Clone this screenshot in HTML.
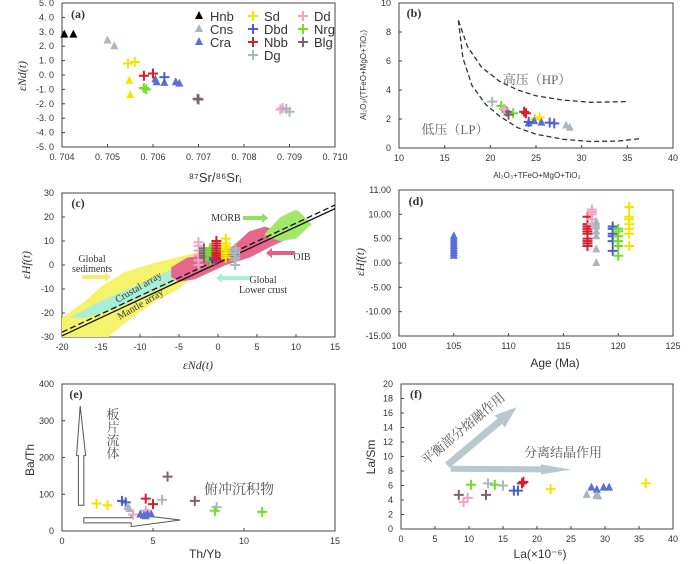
<!DOCTYPE html>
<html><head><meta charset="utf-8"><style>
body{margin:0;background:#fff;}
svg{display:block;font-family:"Liberation Sans","Noto Sans CJK SC",sans-serif;}
.ser{font-family:"Liberation Serif","Noto Serif CJK SC",serif;}
</style></head><body>
<svg id="fig" width="700" height="564" viewBox="0 0 700 564" xmlns="http://www.w3.org/2000/svg"></svg>
<script>
const NS="http://www.w3.org/2000/svg";
const svg=document.getElementById('fig');
const C={Hnb:"#000",Cns:"#a7b6c0",Cra:"#5a6ed8",Sd:"#f2e600",Dbd:"#4a5fd0",Nbb:"#d41f2c",Dg:"#a9b9c2",Dd:"#f2a3c4",Nrg:"#72e022",Blg:"#7e6272"};

// ---- panel a data ----
const aSeries=["Hnb","Cns","Cra","Sd","Sd","Dbd","Nbb","Nrg","Blg","Dd","Dg"];
const aShapes=["tri","tri","tri","cross","tri","cross","cross","cross","cross","cross","cross"];
const aX=[[0.70405,0.70425],[0.70500,0.70515],[0.70605,0.70608,0.70625,0.70650,0.70658],[0.70545,0.70560],[0.70548,0.70550],[0.70625],[0.70580,0.70600],[0.70580,0.70585],[0.70700,0.70698],[0.70880,0.70885],[0.70893,0.70900]];
const aY=[[2.8,2.8],[2.4,2.0],[-0.3,-0.5,-0.55,-0.5,-0.6],[0.8,0.9],[-0.4,-1.4],[-0.15],[-0.05,0.1],[-0.9,-1.0],[-1.7,-1.65],[-2.4,-2.3],[-2.35,-2.55]];
const aXTicks=[0.704,0.705,0.706,0.707,0.708,0.709,0.710];
const aXLabels=["0. 704","0. 705","0. 706","0. 707","0. 708","0. 709","0. 710"];
const aYTicks=[5,4,3,2,1,0,-1,-2,-3,-4,-5];
const aYLabels=["5. 0","4. 0","3. 0","2. 0","1. 0","0. 0","-1. 0","-2. 0","-3. 0","-4. 0","-5. 0"];

// ---- panel b ----
const bSeries=["Dg","Nrg","Blg","Dd","Nbb","Sd","Cra","Dbd","Cns"];
const bShapes=["cross","cross","cross","cross","cross","cross","tri","cross","tri"];
const bX=[[20.2],[21.2,22.5],[21.8,22.0],[21.5],[23.7,23.9],[24.9,25.4],[24.8,25.6,24.2],[24.2,26.5,27.0],[28.3,28.7]];
const bY=[[3.2],[2.9,2.4],[2.5,2.3],[2.7],[2.5,2.4],[2.0,2.1],[1.85,1.75,1.7],[1.8,1.75,1.7],[1.55,1.4]];
const bXTicks=[10,15,20,25,30,35,40];
const bYTicks=[0,2,4,6,8,10];
const bUpperX=[16.5,17.5,19,21,23,25,28,31,35];
const bUpperY=[8.8,7.0,5.6,4.6,4.0,3.6,3.3,3.15,3.2];
const bLowerX=[16.5,17,18,19.5,21,23,25,28,31,34,36.5];
const bLowerY=[8.8,6.2,4.3,3.0,2.2,1.4,0.95,0.6,0.45,0.48,0.65];

// ---- panel c ----
const cSeries=["Dd","Blg","Nrg","Dbd","Nbb","Sd","Dg"];
const cX=[-2.5,-1.8,-1.0,-0.5,-0.2,1.0,2.2];
const cY=[[0,2,4,6,8,9.5],[3,4,5,6,7],[2,3,4,5,6,7],[2,2.5,3],[2,3,4,5,6,7,8,9,10],[3,4,5,6,7,8,9,11],[0,2,3,4,5,6,7]];
const cXTicks=[-20,-15,-10,-5,0,5,10,15];
const cYTicks=[-30,-20,-10,0,10,20,30];
const sedX=[-20,-17,-15,-12,-8,-3,0,2.5,1,-3,-5,-8,-11,-13,-14,-20];
const sedY=[-22,-15,-9,-3,1,5,6.5,5,1,-4,-10,-15,-22,-27,-30,-30];
const lcX=[-19,-15,-10,-6,-3,0,3,5,3,-1,-5,-9,-13,-17];
const lcY=[-22,-15,-8,-2,3,7,8,6,2,-1,-6,-12,-18,-22];
const oibX=[-6,-4,0,2,4,6,8,9,7,4,1,-3,-5,-6];
const oibY=[-1,3,5,8,14,16,14,11,8,3,0,-6,-7,-5];
const morbX=[6,8,10,10.5,12,11,10,8,6];
const morbY=[13,20,23,22,17,14,11,10,12];
const crustX=[-20,15], crustY=[-28,25];
const mantleX=[-20,15], mantleY=[-29.5,23.5];

// ---- panel d ----
const dSeries=["Cra","Nbb","Dd","Cns","Dbd","Nrg","Sd"];
const dShapes=["tri","cross","cross","tri","cross","cross","cross"];
const dX=[105,117.2,117.6,118,119.5,120,121];
const dY=[[1.5,2,2.5,3,3.5,4,4.5,5,5.5],[3.5,4,4.5,5,6,6.5,7,7.5,8,9.5],[8,9,10,10.5,11],[0,2.8,5.5,6.5,7.5,8,8.5],[2.5,4.5,5.5,6,7,7.5],[1.5,3.5,4.5,5.5,6.5,7],[3.5,6,7,8,9,9.5,11.5]];
const dXTicks=[100,105,110,115,120,125];
const dYTicks=[15,10,5,0,-5,-10,-15];
const dYLabels=["11.00","10.00","5.00","0.00","-5.00","-10.00","-15.00"];

// ---- panel e ----
const eSeries=["Sd","Dbd","Cns","Dd","Cra","Nbb","Dg","Blg","Nrg"];
const eShapes=["cross","cross","tri","cross","tri","cross","cross","cross","cross"];
const eX=[[1.9,2.5],[3.3,3.5],[3.6,3.7],[3.9,4.6,4.7],[4.3,4.5,4.7,4.9,4.6],[4.6,5.0],[5.5,8.5],[5.8,7.3],[8.4,11]];
const eY=[[75,70],[82,78],[65,60],[45,55,48],[45,42,45,45,40],[88,73],[85,65],[148,82],[55,52]];
const eXTicks=[0,5,10,15];
const eYTicks=[0,100,200,300,400];

// ---- panel f ----
const fSeries=["Blg","Dd","Nrg","Dg","Dbd","Nbb","Sd","Cra","Cns"];
const fShapes=["cross","cross","cross","cross","cross","cross","cross","tri","tri"];
const fX=[[8.5,12.5],[9.2,9.8],[10.3,13.8],[12.8,15],[16.6,17.2],[17.8,18],[22,36],[28,28.8,29.8,30.6],[27.3,28.7,29]];
const fY=[[4.7,4.7],[3.7,4.3],[6.1,6.1],[6.3,6],[5.3,5.3],[6.3,6.5],[5.5,6.3],[5.7,5.4,5.7,5.7],[4.7,4.6,4.5]];
const fXTicks=[0,5,10,15,20,25,30,35,40];
const fYTicks=[0,2,4,6,8,10,12,14,16,18,20];

function el(tag,attrs,parent){const e=document.createElementNS(NS,tag);for(const k in attrs)e.setAttribute(k,attrs[k]);(parent||svg).appendChild(e);return e;}
function txt(s,x,y,size,anchor,parent,cls){const t=el('text',{x:x,y:y,'font-size':size,'text-anchor':anchor||'middle',fill:'#333'},parent);if(cls)t.setAttribute('class',cls);t.textContent=s;return t;}

function panel(name,box,xd,yd,xt,yt,xl,yl){
  const g=el('g',{});
  
  
  const [L,T,R,B]=box;
  const sx=v=>L+(v-xd[0])/(xd[1]-xd[0])*(R-L);
  const sy=v=>B-(v-yd[0])/(yd[1]-yd[0])*(B-T);
  const fr=el('rect',{x:L,y:T,width:R-L,height:B-T,fill:'none',stroke:'#444','stroke-width':1},g);
  
  
  xt.forEach((v,i)=>{const x=sx(v);el('line',{x1:x,y1:B,x2:x,y2:B-3,stroke:'#444'},g);
    const t=txt(xl?xl[i]:String(v),x,B+13,9,'middle',g);
    
    });
  yt.forEach((v,i)=>{const y=sy(v);el('line',{x1:L,y1:y,x2:L+3,y2:y,stroke:'#444'},g);
    const t=txt(yl?yl[i]:String(v),L-8,y+3,9,'end',g);
    
    });
  return {g,sx,sy};
}
function mark(p,shape,x,y,col){
  let m;
  const X=p.sx(x),Y=p.sy(y);
  if(shape==='tri'){m=el('path',{d:`M${X},${Y-5}L${X+4},${Y+3}L${X-4},${Y+3}Z`,fill:col},p.g);}
  else{m=el('path',{d:`M${X-5},${Y}H${X+5}M${X},${Y-5}V${Y+5}`,stroke:col,'stroke-width':2},p.g);}
  
  
}
function poly(p,xs,ys,attrs,name){
  const pts=xs.map((x,i)=>p.sx(x)+','+p.sy(ys[i])).join(' ');
  const e=el('polygon',Object.assign({points:pts},attrs),p.g);
  
  
}
function pline(p,xs,ys,attrs,name){
  const pts=xs.map((x,i)=>p.sx(x)+','+p.sy(ys[i])).join(' ');
  const e=el('polyline',Object.assign({points:pts,fill:'none'},attrs),p.g);
  
  
}
function label(p,s,x,y,size,name,extra,cls){const t=txt(s,x,y,size,'middle',p.g,cls);
  
  
  if(extra)for(const k in extra)t.setAttribute(k,extra[k]);return t;}
function arrowPath(x1,y1,x2,y2,sw,hw,hl){
  const dx=x2-x1,dy=y2-y1,len=Math.hypot(dx,dy),ux=dx/len,uy=dy/len,nx=-uy,ny=ux;
  const bx=x2-ux*hl,by=y2-uy*hl;
  const P=[[x1+nx*sw,y1+ny*sw],[bx+nx*sw,by+ny*sw],[bx+nx*hw,by+ny*hw],[x2,y2],[bx-nx*hw,by-ny*hw],[bx-nx*sw,by-ny*sw],[x1-nx*sw,y1-ny*sw]];
  return 'M'+P.map(q=>q[0].toFixed(1)+','+q[1].toFixed(1)).join('L')+'Z';
}

// Panel a
const pa=panel('panel-a',[62,3,335,147],[0.704,0.710],[-5,5],aXTicks,aYTicks,aXLabels,aYLabels);
aSeries.forEach((s,i)=>aX[i].forEach((x,j)=>mark(pa,aShapes[i],x,aY[i][j],C[s])));
label(pa,'(a)',78,18,12,'panel-label',{'font-weight':'bold'},'ser');
const legend=[["Hnb","tri",199,16],["Cns","tri",199,29],["Cra","tri",199,42],["Sd","cross",253,16],["Dbd","cross",253,29],["Nbb","cross",253,42],["Dg","cross",253,55],["Dd","cross",303,16],["Nrg","cross",303,29],["Blg","cross",303,42]];
legend.forEach(l=>{const X=l[2],Y=l[3];let m;
  if(l[1]==='tri')m=el('path',{d:`M${X},${Y-5}L${X+4},${Y+3}L${X-4},${Y+3}Z`,fill:C[l[0]]},pa.g);
  else m=el('path',{d:`M${X-5},${Y}H${X+5}M${X},${Y-5}V${Y+5}`,stroke:C[l[0]],'stroke-width':2},pa.g);
  
  
  const t=txt(l[0],X+11,Y+5,13,'start',pa.g);
  
  });
label(pa,'⁸⁷Sr/⁸⁶Srᵢ',215,182,13,'x-axis-title');
label(pa,'εNd(t)',26,76,12,'y-axis-title',{transform:'rotate(-90 26 76)','font-style':'italic'},'ser');

// Panel b
const pb=panel('panel-b',[399,3,673,148],[10,40],[0,10],bXTicks,bYTicks);
pline(pb,bUpperX,bUpperY,{stroke:'#333','stroke-width':1.3,'stroke-dasharray':'5,3'},'high-pressure-curve');
pline(pb,bLowerX,bLowerY,{stroke:'#333','stroke-width':1.3,'stroke-dasharray':'5,3'},'low-pressure-curve');
bSeries.forEach((s,i)=>bX[i].forEach((x,j)=>mark(pb,bShapes[i],x,bY[i][j],C[s])));
label(pb,'(b)',414,17,12,'panel-label',{'font-weight':'bold'},'ser');
label(pb,'高压（HP）',537,84,13,'high-pressure-label',{fill:'#666'},'ser');
label(pb,'低压（LP）',455,134,13,'low-pressure-label',{fill:'#666'},'ser');
label(pb,'Al₂O₃+TFeO+MgO+TiO₂',537,178,8,'x-axis-title');
label(pb,'Al₂O₃/(TFeO+MgO+TiO₂)',366,75,8,'y-axis-title',{transform:'rotate(-90 366 75)'});

// Panel c
const pc=panel('panel-c',[62,193,335,337],[-20,15],[-30,30],cXTicks,cYTicks);
poly(pc,sedX,sedY,{fill:'#f5f26b'},'global-sediments-field');
poly(pc,lcX,lcY,{fill:'#a8efd8'},'lower-crust-field');
poly(pc,oibX,oibY,{fill:'#e6678e'},'oib-field');
poly(pc,morbX,morbY,{fill:'#a4e86a'},'morb-field');
pline(pc,crustX,crustY,{stroke:'#111','stroke-width':1.3,'stroke-dasharray':'6,3'},'crustal-array-line');
pline(pc,mantleX,mantleY,{stroke:'#111','stroke-width':1.3},'mantle-array-line');
cSeries.forEach((s,i)=>cY[i].forEach(y=>mark(pc,'cross',cX[i],y,C[s])));
label(pc,'(c)',78,207,12,'panel-label',{'font-weight':'bold'},'ser');
label(pc,'MORB',226,221,10,'morb-label',{},'ser');
label(pc,'OIB',302,260,10,'oib-label',{},'ser');
label(pc,'Global',92,262,10,'sediments-label',{},'ser');
label(pc,'sediments',92,272,10,'sediments-label-2',{},'ser');
label(pc,'Global',263,283,10,'lower-crust-label',{},'ser');
label(pc,'Lower crust',263,293,10,'lower-crust-label-2',{},'ser');
label(pc,'Crustal array',140,290,10,'crustal-array-label',{transform:'rotate(-30 140 290)'},'ser');
label(pc,'Mantle array',142,307,10,'mantle-array-label',{transform:'rotate(-30 142 307)'},'ser');
[[243,218,262,218,'#90e060'],[295,253,272,253,'#e06088'],[82,277,105,277,'#f2ee70'],[250,278,222,278,'#a8efd8']].forEach(a=>{
  const ar=el('line',{x1:a[0],y1:a[1],x2:a[2],y2:a[3],stroke:a[4],'stroke-width':4},pc.g);
  
  
  const d=a[2]>a[0]?1:-1;
  const h=el('path',{d:`M${a[2]+d*6},${a[3]}L${a[2]},${a[3]-5}L${a[2]},${a[3]+5}Z`,fill:a[4]},pc.g);
  
  });
label(pc,'εNd(t)',198,369,12,'x-axis-title',{'font-style':'italic'},'ser');
label(pc,'εHf(t)',30,265,12,'y-axis-title',{transform:'rotate(-90 30 265)','font-style':'italic'},'ser');

// Panel d
const pd=panel('panel-d',[399,190,673,336],[100,125],[-15,15],dXTicks,dYTicks,null,dYLabels);
dSeries.forEach((s,i)=>dY[i].forEach(y=>mark(pd,dShapes[i],dX[i],y,C[s])));
label(pd,'(d)',416,205,12,'panel-label',{'font-weight':'bold'},'ser');
label(pd,'Age (Ma)',555,367,12,'x-axis-title');
label(pd,'εHf(t)',364,262,12,'y-axis-title',{transform:'rotate(-90 364 262)','font-style':'italic'},'ser');

// Panel e
const pe=panel('panel-e',[62,384,335,531],[0,15],[0,400],eXTicks,eYTicks);
const va=el('path',{d:`M${pe.sx(0.9)},${pe.sy(70)}V${pe.sy(205)}H${pe.sx(0.8)}L${pe.sx(1.0)},${pe.sy(340)}L${pe.sx(1.3)},${pe.sy(205)}H${pe.sx(1.2)}V${pe.sy(70)}Z`,fill:'#fff',stroke:'#555'},pe.g);


const ha=el('path',{d:`M${pe.sx(1.2)},${pe.sy(22)}H${pe.sx(3.8)}V${pe.sy(12)}L${pe.sx(6.5)},${pe.sy(30)}L${pe.sx(3.8)},${pe.sy(46)}V${pe.sy(36)}H${pe.sx(1.2)}Z`,fill:'#fff',stroke:'#555'},pe.g);


eSeries.forEach((s,i)=>eX[i].forEach((x,j)=>mark(pe,eShapes[i],x,eY[i][j],C[s])));
label(pe,'(e)',76,398,12,'panel-label',{'font-weight':'bold'},'ser');
['板','片','流','体'].forEach((c,i)=>label(pe,c,113,419+i*13,13,'slab-fluid-label',{fill:'#555'},'ser'));
label(pe,'俯冲沉积物',239,494,14,'subducted-sediment-label',{fill:'#555'},'ser');
label(pe,'Th/Yb',205,558,12,'x-axis-title');
label(pe,'Ba/Th',34,460,12,'y-axis-title',{transform:'rotate(-90 34 460)'});

// Panel f
const pf=panel('panel-f',[401,384,673,529],[0,40],[0,20],fXTicks,fYTicks);
const dA=el('path',{d:arrowPath(pf.sx(6.8),pf.sy(8.8),pf.sx(17),pf.sy(16.8),3.5,8,22),fill:'#b9c7ce'},pf.g);


const hA=el('path',{d:arrowPath(pf.sx(7.3),pf.sy(8.3),pf.sx(25),pf.sy(8.2),3,5,30),fill:'#b9c7ce'},pf.g);


fSeries.forEach((s,i)=>fX[i].forEach((x,j)=>mark(pf,fShapes[i],x,fY[i][j],C[s])));
label(pf,'(f)',416,398,12,'panel-label',{'font-weight':'bold'},'ser');
label(pf,'平衡部分熔融作用',466,432,13,'partial-melting-label',{fill:'#555',transform:'rotate(-40 466 432)'},'ser');
label(pf,'分离结晶作用',563,457,13,'fractional-crystallization-label',{fill:'#555'},'ser');
label(pf,'La(×10⁻⁶)',540,558,12,'x-axis-title');
label(pf,'La/Sm',375,457,12,'y-axis-title',{transform:'rotate(-90 375 457)'});
</script>
</body></html>
